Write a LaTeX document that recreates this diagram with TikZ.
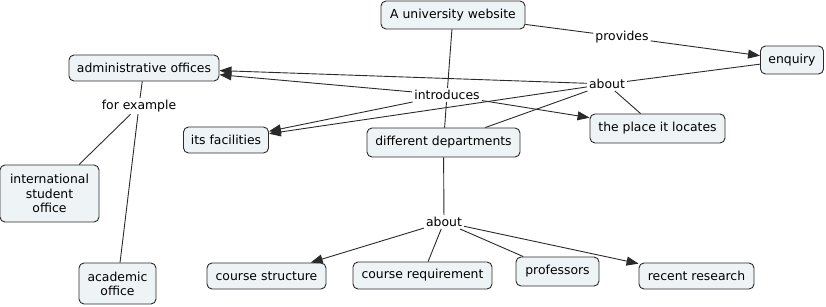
\documentclass[tikz,border=0pt]{standalone}
\usepackage{fontspec}
\setmainfont{DejaVu Sans}
\usetikzlibrary{arrows.meta}
\definecolor{cfill}{HTML}{EEF3F6}
\definecolor{cline}{HTML}{2A2A2A}
\begin{document}
\begin{tikzpicture}[x=1pt,y=-1pt,
  concept/.style={draw=cline,fill=cfill,rounded corners=5pt,line width=0.9pt,
    font=\fontsize{12.4}{14.2}\selectfont,align=center,inner sep=1pt},
  linkph/.style={font=\fontsize{12.4}{14.2}\selectfont,inner sep=2pt},
  conn/.style={draw=cline,line width=0.9pt},
  arr/.style={conn,-{Triangle[length=12pt,width=9pt]}}]
\useasboundingbox (0,0) rectangle (826,307);
% concepts
\node[concept,minimum width=144pt,minimum height=28pt] (web) at (453,15) {A university website};
\node[concept,minimum width=63pt,minimum height=28pt] (enq) at (792,60) {enquiry};
\node[concept,minimum width=150pt,minimum height=26pt] (adm) at (144,68) {administrative offices};
\node[concept,minimum width=85pt,minimum height=26pt] (fac) at (226,140) {its facilities};
\node[concept,minimum width=153pt,minimum height=29pt] (dep) at (443.5,142.5) {different departments};
\node[concept,minimum width=135pt,minimum height=29pt] (place) at (657.5,128.5) {the place it locates};
\node[concept,minimum width=99pt,minimum height=57pt] (intl) at (49.5,193.5) {international\\student\\office};
\node[concept,minimum width=77pt,minimum height=41pt] (acad) at (117.5,283.5) {academic\\office};
\node[concept,minimum width=119pt,minimum height=26pt] (cs) at (266.5,276) {course structure};
\node[concept,minimum width=139pt,minimum height=27pt] (cr) at (422.5,275.5) {course requirement};
\node[concept,minimum width=83pt,minimum height=29pt] (prof) at (557.5,271.5) {professors};
\node[concept,minimum width=115pt,minimum height=26pt] (rr) at (696.5,276) {recent research};
% linking phrases
\node[linkph] (prov) at (622,37) {provides};
\node[linkph] (abt) at (607,84) {about};
\node[linkph] (intro) at (447,95) {introduces};
\node[linkph] (forex) at (139,106) {for example};
\node[linkph] (abt2) at (444,222) {about};
% connectors
\draw[conn] (web) -- (prov);
\draw[arr] (prov) -- (enq);
\draw[conn] (enq) -- (abt);
\draw[arr] (abt) -- (adm);
\draw[arr] (abt) -- (fac);
\draw[conn] (abt) -- (dep);
\draw[conn] (abt) -- (place);
\draw[conn] (web) -- (intro);
\draw[arr] (intro) -- (adm);
\draw[arr] (intro) -- (fac);
\draw[conn] (intro) -- (dep);
\draw[arr] (intro) -- (place);
\draw[conn] (adm) -- (forex);
\draw[conn] (forex) -- (intl);
\draw[conn] (forex) -- (acad);
\draw[conn] (dep) -- (abt2);
\draw[arr] (abt2) -- (cs);
\draw[conn] (abt2) -- (cr);
\draw[conn] (abt2) -- (prof);
\draw[arr] (abt2) -- (rr);
\end{tikzpicture}
\end{document}
